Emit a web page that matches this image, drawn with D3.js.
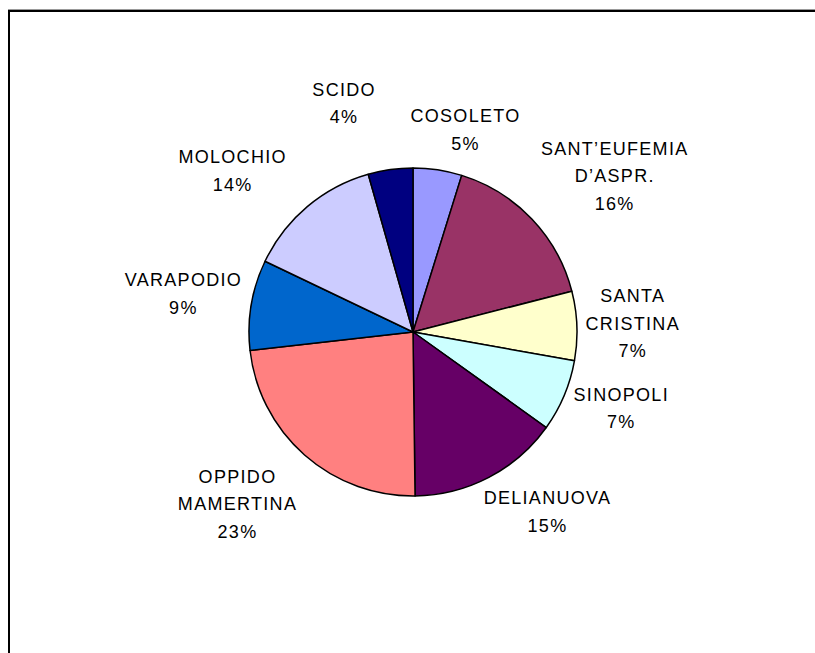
<!DOCTYPE html>
<html>
<head>
<meta charset="utf-8">
<script src="https://cdnjs.cloudflare.com/ajax/libs/d3/7.8.5/d3.min.js"></script>
<style>
    body { margin: 0; background: #fff; }
    .label { font-family: "Liberation Sans", Arial, sans-serif; font-size: 18px; fill: #000; letter-spacing: 1.3px; }
</style>
</head>
<body>
<script>
// municipalities, clockwise from 12 o'clock
var comuni = ["COSOLETO", "SANT\u2019EUFEMIA|D\u2019ASPR.", "SANTA|CRISTINA", "SINOPOLI",
    "DELIANUOVA", "OPPIDO|MAMERTINA", "VARAPODIO", "MOLOCHIO", "SCIDO"];
// share of total (%)
var quote = [4.8, 16.2, 6.8, 7.1, 14.9, 23.4, 8.9, 13.5, 4.4];
var colori = ["#9999FF", "#993366", "#FFFFCC", "#CCFFFF", "#660066",
    "#FF8080", "#0066CC", "#CCCCFF", "#000080"];

window.onload = drawChart();

function drawChart(){
    var width = 815,
        height = 653,
        cx = 413,
        cy = 332,
        radius = 164,
        lineHeight = 27.5;

    //label block offsets from pie centre (first line), in radius units
    var labelOffsets = [
        [0.32, -1.32], [1.23, -1.12], [1.34, -0.22], [1.27, 0.38], [0.82, 1.01],
        [-1.07, 0.88], [-1.40, -0.32], [-1.10, -1.07], [-0.42, -1.48]
    ];

    var svg = d3.select("body")
        .append("svg")
        .attr("width", width)
        .attr("height", height);

    //chart frame
    svg.append("line")
        .attr("x1", 8).attr("x2", width)
        .attr("y1", 9.5).attr("y2", 9.5)
        .style("stroke", "#999")
        .style("stroke-width", 1);

    svg.append("rect")
        .attr("x", 9)
        .attr("y", 11)
        .attr("width", width + 20)
        .attr("height", height + 20)
        .style("fill", "none")
        .style("stroke", "#000")
        .style("stroke-width", 2);

    var data = comuni.map(function(c, i){
        return {name: c, value: quote[i], color: colori[i]};
    });

    var pie = d3.pie()
        .sort(null)
        .value(function(d){ return d.value; });

    var arc = d3.arc()
        .innerRadius(0)
        .outerRadius(radius);

    var g = svg.append("g")
        .attr("transform", "translate(" + cx + "," + cy + ")");

    g.selectAll(".slice")
        .data(pie(data))
        .enter()
        .append("path")
        .attr("class", "slice")
        .attr("d", arc)
        .style("fill", function(d){ return d.data.color; })
        .style("stroke", "#000")
        .style("stroke-width", 1.5)
        .style("stroke-linejoin", "round");

    //data labels: name lines + rounded percent
    var labels = g.selectAll(".label")
        .data(data)
        .enter()
        .append("text")
        .attr("class", "label")
        .attr("text-anchor", "middle")
        .attr("transform", function(d, i){
            var o = labelOffsets[i];
            return "translate(" + (o[0] * radius) + "," + (o[1] * radius + 6.5) + ")";
        });

    labels.each(function(d){
        var lines = d.name.split("|");
        lines.push(Math.round(d.value) + "%");
        d3.select(this).selectAll("tspan")
            .data(lines)
            .enter()
            .append("tspan")
            .attr("x", 0)
            .attr("y", function(l, j){ return j * lineHeight; })
            .text(function(l){ return l; });
    });
};
</script>
</body>
</html>
